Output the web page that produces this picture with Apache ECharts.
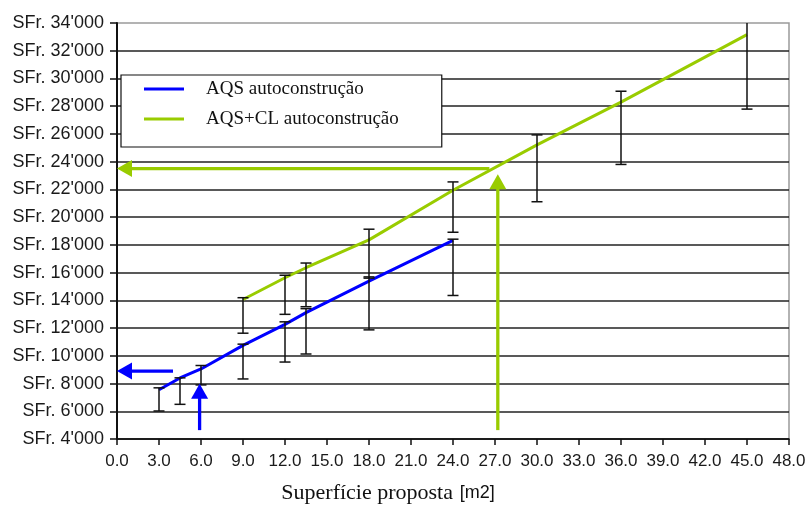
<!DOCTYPE html>
<html>
<head>
<meta charset="utf-8">
<script src="https://cdn.jsdelivr.net/npm/echarts@6/dist/echarts.min.js"></script>
<style>html,body{margin:0;padding:0;background:#fff}#c{width:809px;height:509px}</style>
</head>
<body>
<div id="c"></div>
<script>
// ---- data ----
const blueName = 'AQS autoconstrução';
const greenName = 'AQS+CL autoconstrução';
const blueX = [3, 4.5, 6, 9, 12, 13.5, 18, 24];
const blueY = [7550, 8400, 9050, 10750, 12270, 13110, 15380, 18320];
const blueLow = [6020, 6500, 7900, 8330, 9550, 10130, 11870, 14350];
const blueHigh = [7690, 8410, 9300, 10840, 12450, 13400, 15690, 18410];
const greenX = [9, 12, 13.5, 18, 24, 30, 36, 45];
const greenY = [14060, 15630, 16350, 18360, 21940, 25210, 28290, 33160];
const greenLow = [11630, 12990, 13540, 15600, 18910, 21110, 23800, 27790];
const greenHigh = [14190, 15810, 16690, 19130, 22540, 25930, 29080, 34600];
// arrows: [xFrom, yFrom, xTo, yTo]
const blueArrows = [[4.0, 8900, 0, 8900], [5.9, 4640, 5.9, 7980]];
const greenArrows = [[26.6, 23500, 0, 23500], [27.2, 4640, 27.2, 23090]];
const xMin = 0, xMax = 48, xStep = 3;
const yMin = 4000, yMax = 34000, yStep = 2000;

const BLUE = '#0000ff', GREEN = '#99cc00';

const zip = (a, b) => a.map((v, i) => [v, b[i]]);
const errData = (x, lo, hi) => x.map((v, i) => [v, lo[i], hi[i]]);

function renderErr(params, api) {
  const x = api.value(0), lo = api.value(1), hi = api.value(2);
  const p1 = api.coord([x, lo]), p2 = api.coord([x, hi]);
  const w = 5.5;
  const st = { stroke: '#111', lineWidth: 1.5 };
  return { type: 'group', children: [
    { type: 'line', shape: { x1: p1[0], y1: p1[1], x2: p2[0], y2: p2[1] }, style: st },
    { type: 'line', shape: { x1: p1[0] - w, y1: p1[1], x2: p1[0] + w, y2: p1[1] }, style: st },
    { type: 'line', shape: { x1: p2[0] - w, y1: p2[1], x2: p2[0] + w, y2: p2[1] }, style: st }
  ]};
}

function makeArrowRenderer(color) {
  return function (params, api) {
    const a = api.coord([api.value(0), api.value(1)]);
    const b = api.coord([api.value(2), api.value(3)]);
    let dx = b[0] - a[0], dy = b[1] - a[1];
    const len = Math.sqrt(dx * dx + dy * dy) || 1;
    dx /= len; dy /= len;
    const L = 15, hw = 8.5;
    const bx = b[0] - dx * L, by = b[1] - dy * L;
    const nx = -dy, ny = dx;
    return { type: 'group', children: [
      { type: 'line', shape: { x1: a[0], y1: a[1], x2: bx + dx, y2: by + dy }, style: { stroke: color, lineWidth: 3.3 } },
      { type: 'polygon', shape: { points: [[b[0], b[1]], [bx + nx * hw, by + ny * hw], [bx - nx * hw, by - ny * hw]] }, style: { fill: color } }
    ]};
  };
}

const chart = echarts.init(document.getElementById('c'), null, { renderer: 'canvas' });
chart.setOption({
  backgroundColor: '#fff',
  animation: false,
  grid: { left: 117, right: 20, top: 23, bottom: 67, show: true, borderColor: '#9a9a9a', borderWidth: 1.5, backgroundColor: 'transparent' },
  legend: {
    orient: 'vertical', left: 121, top: 75,
    data: [{ name: blueName, icon: 'rect' }, { name: greenName, icon: 'rect' }],
    itemWidth: 40, itemHeight: 3, itemGap: 10,
    padding: [4, 43, 18, 23],
    borderColor: '#111', borderWidth: 1.2, backgroundColor: '#fff',
    textStyle: { fontFamily: '"Liberation Serif", serif', fontSize: 19, color: '#111', lineHeight: 20, padding: [0, 0, 0, 17] }
  },
  xAxis: {
    type: 'value', min: xMin, max: xMax, interval: xStep,
    name: '{a|Superfície proposta}  {b|[m2]}',
    nameLocation: 'middle', nameGap: 43,
    nameTextStyle: { padding: [0, 130, 0, 0], rich: {
      a: { fontFamily: '"Liberation Serif", serif', fontSize: 22, color: '#111' },
      b: { fontFamily: '"Liberation Sans", sans-serif', fontSize: 18, color: '#111' }
    } },
    axisLine: { show: true, onZero: false, lineStyle: { color: '#111', width: 1.5 } },
    axisTick: { show: true, length: 6, lineStyle: { color: '#111', width: 1.5 } },
    axisLabel: { margin: 14, fontFamily: '"Liberation Sans", sans-serif', fontSize: 17, color: '#1a1a1a', formatter: v => v.toFixed(1) },
    splitLine: { show: false }
  },
  yAxis: {
    type: 'value', min: yMin, max: yMax, interval: yStep,
    axisLine: { show: true, onZero: false, lineStyle: { color: '#111', width: 2 } },
    axisTick: { show: true, length: 7, lineStyle: { color: '#111', width: 1.5 } },
    axisLabel: { margin: 13, fontFamily: '"Liberation Sans", sans-serif', fontSize: 18, color: '#1a1a1a',
      formatter: v => 'SFr. ' + (v / 1000) + "'000" },
    splitLine: { show: true, showMaxLine: false, lineStyle: { color: '#222', width: 1.5 } }
  },
  series: [
    { name: blueName, type: 'line', data: zip(blueX, blueY), showSymbol: false, symbol: 'none', color: BLUE,
      lineStyle: { color: BLUE, width: 3 }, z: 3 },
    { name: greenName, type: 'line', data: zip(greenX, greenY), showSymbol: false, symbol: 'none', color: GREEN,
      lineStyle: { color: GREEN, width: 3 }, z: 3 },
    { type: 'custom', name: 'errBlue', renderItem: renderErr, data: errData(blueX, blueLow, blueHigh), clip: true, z: 4, silent: true },
    { type: 'custom', name: 'errGreen', renderItem: renderErr, data: errData(greenX, greenLow, greenHigh), clip: true, z: 4, silent: true },
    { type: 'custom', name: 'arrBlue', renderItem: makeArrowRenderer(BLUE), data: blueArrows, z: 5, silent: true },
    { type: 'custom', name: 'arrGreen', renderItem: makeArrowRenderer(GREEN), data: greenArrows, z: 5, silent: true }
  ]
});
</script>
</body>
</html>
